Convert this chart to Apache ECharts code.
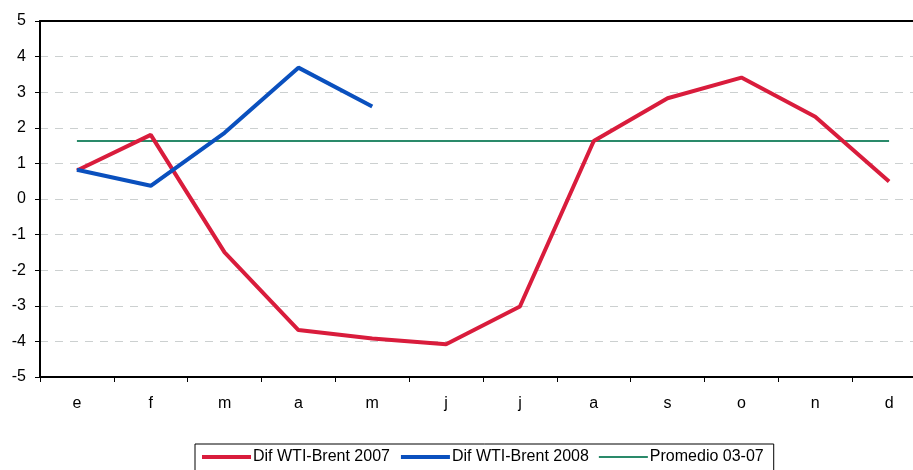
<!DOCTYPE html>
<html>
<head>
<meta charset="utf-8">
<script src="https://cdn.jsdelivr.net/npm/echarts@6/dist/echarts.min.js"></script>
<style>
  html, body { margin: 0; padding: 0; background: #fff; overflow: hidden; }
  #chart { width: 928px; height: 470px; }
</style>
</head>
<body>
<div id="chart"></div>
<script>
// meses
const months = ['e', 'f', 'm', 'a', 'm', 'j', 'j', 'a', 's', 'o', 'n', 'd']

// diferencial WTI - Brent
const dif2007 = [0.8, 1.8, -1.5, -3.68, -3.92, -4.08, -3.02, 1.63, 2.83, 3.41, 2.31, 0.49]
const dif2008 = [0.82, 0.37, 1.86, 3.69, 2.6, null, null, null, null, null, null, null]
const promedio = [1.63, 1.63, 1.63, 1.63, 1.63, 1.63, 1.63, 1.63, 1.63, 1.63, 1.63, 1.63]

const chart = echarts.init(document.getElementById('chart'))

chart.setOption({
  animation: false,
  textStyle: { fontFamily: 'Liberation Sans, Arial, sans-serif' },
  grid: {
    left: 40,
    right: 2,
    top: 21,
    bottom: 93
  },
  legend: {
    left: 195,
    top: 444,
    padding: [5, 10, 8, 5],
    itemGap: 9,
    itemWidth: 49,
    itemHeight: 10,
    borderColor: '#000',
    borderWidth: 1,
    borderRadius: 0,
    itemStyle: { opacity: 0 },
    textStyle: { fontSize: 16, color: '#000', padding: [0, 0, 0, -3] },
    data: [
      { name: 'Dif WTI-Brent 2007', lineStyle: { width: 4 } },
      { name: 'Dif WTI-Brent 2008', lineStyle: { width: 4 } },
      { name: 'Promedio 03-07', lineStyle: { width: 2 } }
    ]
  },
  xAxis: [
    {
      type: 'category',
      data: months,
      boundaryGap: true,
      axisLine: { onZero: false, lineStyle: { color: '#000', width: 2 } },
      axisTick: { show: true, length: 5, inside: false, lineStyle: { color: '#000' } },
      axisLabel: { color: '#000', fontSize: 16, margin: 19 },
      splitLine: { show: false }
    },
    {
      // borde superior
      type: 'category',
      data: months,
      position: 'top',
      axisLine: { onZero: false, lineStyle: { color: '#000', width: 2 } },
      axisTick: { show: false },
      axisLabel: { show: false },
      splitLine: { show: false }
    }
  ],
  yAxis: {
    type: 'value',
    min: -5,
    max: 5,
    interval: 1,
    axisLine: { show: true, lineStyle: { color: '#000', width: 2 } },
    axisTick: { show: true, length: 5, lineStyle: { color: '#000' } },
    axisLabel: { color: '#000', fontSize: 16, margin: 14 },
    splitLine: { lineStyle: { color: '#ccd0d0', type: [8, 7], width: 1 } }
  },
  series: [
    {
      name: 'Dif WTI-Brent 2007',
      type: 'line',
      data: dif2007,
      symbol: 'none',
      lineStyle: { color: '#d91c3c', width: 4 },
      itemStyle: { color: '#d91c3c' },
      z: 3
    },
    {
      name: 'Dif WTI-Brent 2008',
      type: 'line',
      data: dif2008,
      symbol: 'none',
      lineStyle: { color: '#0a50be', width: 4 },
      itemStyle: { color: '#0a50be' },
      z: 4
    },
    {
      name: 'Promedio 03-07',
      type: 'line',
      data: promedio,
      symbol: 'none',
      lineStyle: { color: '#2a8a6a', width: 2 },
      itemStyle: { color: '#2a8a6a' },
      z: 2
    }
  ]
})
</script>
</body>
</html>
